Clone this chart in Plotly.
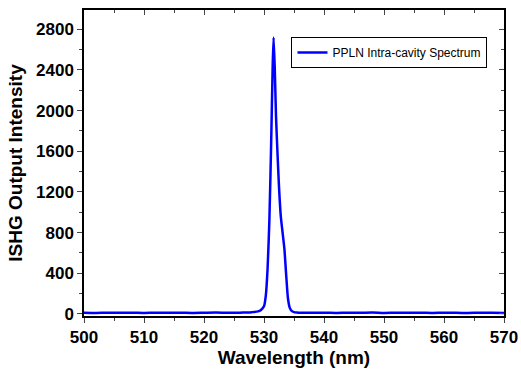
import plotly.graph_objects as go

wavelength = [500, 502, 504, 506, 508, 510, 512, 514, 516, 518, 520, 522, 524, 526, 527, 528, 529, 529.5,
              530.0, 530.3, 530.6, 530.9, 531.2, 531.45, 531.6, 531.8, 532.0, 532.2, 532.5, 532.8, 533.1,
              533.4, 533.7, 534.0, 534.3, 534.6, 535.0, 535.5, 536, 538, 540, 542, 544, 546, 548, 550,
              552, 554, 556, 558, 560, 562, 564, 566, 568, 570]
intensity = [12, 10, 13, 11, 12, 10, 13, 11, 12, 10, 12, 14, 11, 13, 15, 18, 25, 40,
             75, 180, 450, 930, 1700, 2450, 2720, 2400, 1950, 1650, 1250, 960, 800,
             640, 380, 150, 60, 30, 18, 14, 12, 11, 13, 10, 12, 11, 14, 10,
             12, 11, 13, 10, 12, 11, 10, 12, 11, 10]

x_ticks = [500, 510, 520, 530, 540, 550, 560, 570]
y_ticks = [0, 400, 800, 1200, 1600, 2000, 2400, 2800]

font = "Liberation Sans, Arial, sans-serif"

fig = go.Figure()
fig.add_trace(go.Scatter(x=wavelength, y=intensity, mode="lines",
                         line=dict(color="#0000FF", width=2.5, shape="spline", smoothing=0.6),
                         name="PPLN Intra-cavity Spectrum"))
fig.add_trace(go.Scatter(x=[], y=[], xaxis="x2", yaxis="y2", showlegend=False))

xr = [500, 570]
yr = [-20, 2990]

fig.update_layout(
    width=521, height=380,
    margin=dict(l=84, r=17, t=10, b=64),
    paper_bgcolor="white", plot_bgcolor="white",
    font=dict(family=font, color="black"),
    showlegend=True,
    legend=dict(x=0.494, y=0.912, xanchor="left", yanchor="top",
                bordercolor="black", borderwidth=1, bgcolor="white",
                font=dict(family=font, size=12, color="black"),
                itemwidth=30, tracegroupgap=0),
    xaxis=dict(range=xr, tickvals=x_ticks, ticks="outside", ticklen=5, tickwidth=1.2,
               showline=True, linecolor="black", linewidth=1.5, showgrid=False, zeroline=False,
               automargin=False,
               tickfont=dict(family=font, size=17, weight="bold"),
               minor=dict(dtick=5, tick0=500, ticks="outside", ticklen=3, tickwidth=1.2, showgrid=False),
               title=dict(text="Wavelength (nm)", font=dict(family=font, size=19, weight="bold"), standoff=2)),
    yaxis=dict(range=yr, tickvals=y_ticks, ticks="outside", ticklen=5, tickwidth=1.2,
               showline=True, linecolor="black", linewidth=1.5, showgrid=False, zeroline=False,
               automargin=False,
               tickfont=dict(family=font, size=17, weight="bold"),
               minor=dict(dtick=200, tick0=0, ticks="outside", ticklen=3, tickwidth=1.2, showgrid=False),
               title=dict(text="ISHG Output Intensity", font=dict(family=font, size=19, weight="bold"), standoff=8)),
    xaxis2=dict(range=xr, overlaying="x", side="top", tickvals=x_ticks, ticks="inside", ticklen=5,
                tickwidth=1.2, showticklabels=False, showline=True, linecolor="black", linewidth=1.5,
                showgrid=False, zeroline=False, automargin=False,
                minor=dict(dtick=5, tick0=500, ticks="inside", ticklen=3, tickwidth=1.2, showgrid=False)),
    yaxis2=dict(range=yr, overlaying="y", side="right", tickvals=y_ticks, ticks="inside", ticklen=5,
                tickwidth=1.2, showticklabels=False, showline=True, linecolor="black", linewidth=1.5,
                showgrid=False, zeroline=False, automargin=False,
                minor=dict(dtick=200, tick0=0, ticks="inside", ticklen=3, tickwidth=1.2, showgrid=False)),
)

fig.write_html("out.html", config={"displayModeBar": False},
               post_script="document.body.style.margin='0px';document.body.style.overflow='hidden';")
